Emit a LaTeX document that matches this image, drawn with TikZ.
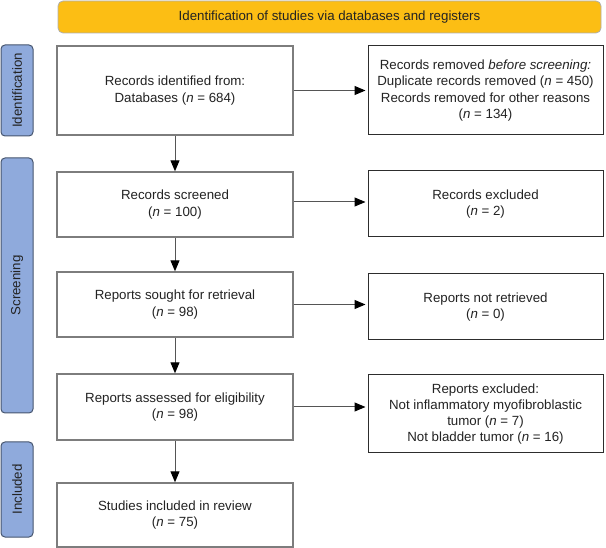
\documentclass[tikz,border=0pt]{standalone}
\usepackage{fontspec}
\setmainfont{Liberation Sans}
\usetikzlibrary{arrows.meta}
\definecolor{bannerfill}{RGB}{252,190,20}
\definecolor{bannerline}{RGB}{175,175,175}
\definecolor{phasefill}{RGB}{143,170,220}
\definecolor{phaseline}{RGB}{70,85,110}
\definecolor{boxline}{RGB}{125,125,125}
\definecolor{sideline}{RGB}{45,45,45}
\definecolor{arrowline}{RGB}{85,85,85}
\definecolor{txt}{RGB}{35,35,35}
\begin{document}
\begin{tikzpicture}[x=1pt,y=-1pt,
  every node/.style={font=\fontsize{13.3}{16.2}\selectfont, text=txt, align=center, inner sep=0pt},
  mainbox/.style={draw=boxline, line width=1.4pt, fill=white, minimum width=236pt},
  sidebox/.style={draw=sideline, line width=1pt, fill=white, minimum width=235pt},
  phase/.style={draw=phaseline, line width=1pt, fill=phasefill, rounded corners=4pt, minimum height=32pt, rotate=90},
  banner/.style={draw=bannerline, line width=0.8pt, fill=bannerfill, rounded corners=5pt, minimum width=543pt, minimum height=32pt},
  arr/.style={draw=arrowline, line width=1pt, -{Triangle[length=11pt,width=9pt,color=black]}}
]
\useasboundingbox (0,0) rectangle (606,548);

\node[banner] (top) at (329.5,17) {Identification of studies via databases and registers};

\node[phase, minimum width=91pt] (pid) at (17,90.5) {Identification};
\node[phase, minimum width=255pt] (pscr) at (17,285.5) {Screening};
\node[phase, minimum width=95pt] (pinc) at (17,489.5) {Included};

\node[mainbox, minimum height=89pt] (a) at (175,90.5) {Records identified from:\\Databases (\textit{n} = 684)};
\node[mainbox, minimum height=65pt] (b) at (175,204.5) {Records screened\\(\textit{n} = 100)};
\node[mainbox, minimum height=65pt] (c) at (175,304.5) {Reports sought for retrieval\\(\textit{n} = 98)};
\node[mainbox, minimum height=66pt] (d) at (175,407) {Reports assessed for eligibility\\(\textit{n} = 98)};
\node[mainbox, minimum height=64pt] (e) at (175,515) {Studies included in review\\(\textit{n} = 75)};

\node[sidebox, minimum height=89pt] (r1) at (485.5,90.5) {Records removed \textit{before screening:}\\Duplicate records removed (\textit{n} = 450)\\Records removed for other reasons\\(\textit{n} = 134)};
\node[sidebox, minimum height=66pt] (r2) at (485.5,204) {Records excluded\\(\textit{n} = 2)};
\node[sidebox, minimum height=66pt] (r3) at (485.5,307) {Reports not retrieved\\(\textit{n} = 0)};
\node[sidebox, minimum height=78pt] (r4) at (485.5,414) {Reports excluded:\\Not inflammatory myofibroblastic\\tumor (\textit{n} = 7)\\Not bladder tumor (\textit{n} = 16)};

\draw[arr] (a) -- (b);
\draw[arr] (b) -- (c);
\draw[arr] (c) -- (d);
\draw[arr] (d) -- (e);

\draw[arr, shorten >=2pt] (a.east) -- (a.east -| r1.west);
\draw[arr, shorten >=2pt] ([yshift=2.5pt]b.east) -- ([yshift=2.5pt]b.east -| r2.west);
\draw[arr, shorten >=2pt] (c.east) -- (c.east -| r3.west);
\draw[arr, shorten >=2pt] (d.east) -- (d.east -| r4.west);
\end{tikzpicture}
\end{document}
